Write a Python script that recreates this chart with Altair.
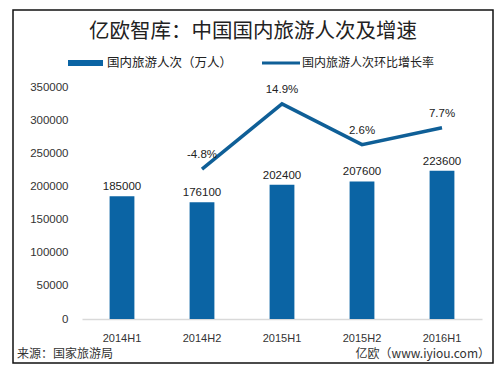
import altair as alt
import pandas as pd

periods = ["2014H1", "2014H2", "2015H1", "2015H2", "2016H1"]
visitors = [185000, 176100, 202400, 207600, 223600]
growth = [None, -4.8, 14.9, 2.6, 7.7]
growth_labels = ["", "-4.8%", "14.9%", "2.6%", "7.7%"]
y_ticks = [0, 50000, 100000, 150000, 200000, 250000, 300000, 350000]

title_text = "亿欧智库：中国国内旅游人次及增速"
legend_bar = "国内旅游人次（万人）"
legend_line = "国内旅游人次环比增长率"
source_text = "来源：国家旅游局"
credit_text = "亿欧（www.iyiou.com）"

df = pd.DataFrame({"period": periods, "visitors": visitors,
                   "growth": growth, "glabel": growth_labels})

BLUE = "#0b64a4"
LINE = "#0f5f97"
CJK = "Noto Sans CJK SC"
NUM = "Liberation Sans"

x_enc = alt.X("period:N", sort=periods,
              scale=alt.Scale(paddingInner=0.69, paddingOuter=0.345),
              axis=alt.Axis(title=None, labelAngle=0, domainColor="#d9d9d9",
                            domainWidth=1.5, ticks=False, labelFontSize=11,
                            labelFont=NUM, labelPadding=13, labelColor="#333333"))
y_bar = alt.Y("visitors:Q", scale=alt.Scale(domain=[0, 350000]),
              axis=alt.Axis(title=None, values=y_ticks, grid=False, domain=False,
                            ticks=False, labelPadding=14, format="d",
                            labelFontSize=11.5, labelFont=NUM, labelColor="#333333"))
y_line = alt.Y("growth:Q", scale=alt.Scale(domain=[-50, 20]), axis=None)

base = alt.Chart(df)
bars = base.mark_bar(color=BLUE).encode(x=x_enc, y=y_bar)
bar_text = base.mark_text(baseline="bottom", dy=-4, fontSize=11.5, font=NUM,
                          color="#222222").encode(x=x_enc, y=y_bar,
                                                  text=alt.Text("visitors:Q", format="d"))
bar_layer = alt.layer(bars, bar_text)

line_base = base.transform_filter("datum.growth != null")
line = line_base.mark_line(color=LINE, strokeWidth=3.5).encode(x=x_enc, y=y_line)
line_text = line_base.mark_text(baseline="bottom", dy=-9, fontSize=11.5, font=NUM,
                                color="#222222").encode(x=x_enc, y=y_line, text="glabel:N")
line_layer = alt.layer(line, line_text)

deco = alt.Chart(pd.DataFrame({"k": [0]}))
title = deco.mark_text(text=title_text, fontSize=20.5, font=CJK, color="#222222",
                       align="center", baseline="middle").encode(
    x=alt.value(171), y=alt.value(-55))
leg_bar = deco.mark_rect(color=BLUE).encode(
    x=alt.value(-14), x2=alt.value(21), y=alt.value(-27), y2=alt.value(-21))
leg_bar_t = deco.mark_text(text=legend_bar, fontSize=12.5, font=CJK, color="#222222",
                           align="left", baseline="middle").encode(
    x=alt.value(25), y=alt.value(-24))
leg_line = deco.mark_rule(color=LINE, strokeWidth=3).encode(
    x=alt.value(180), x2=alt.value(218), y=alt.value(-24))
leg_line_t = deco.mark_text(text=legend_line, fontSize=12, font=CJK, color="#222222",
                            align="left", baseline="middle").encode(
    x=alt.value(220), y=alt.value(-24))
src = deco.mark_text(text=source_text, fontSize=12, font=CJK, color="#333333",
                     align="left", baseline="middle").encode(
    x=alt.value(-65), y=alt.value(267))
cred = deco.mark_text(text=credit_text, fontSize=12, font=CJK, color="#333333",
                      align="right", baseline="middle").encode(
    x=alt.value(408), y=alt.value(267))
border = deco.mark_rect(fill=None, stroke="#111111", strokeWidth=1.5).encode(
    x=alt.value(-69), x2=alt.value(411), y=alt.value(-77), y2=alt.value(276))

chart = alt.layer(
    bar_layer, line_layer, title, leg_bar, leg_bar_t, leg_line, leg_line_t, src, cred, border
).resolve_scale(y="independent").properties(
    width=400, height=232,
    autosize=alt.AutoSizeParams(type="none"),
    padding={"left": 82, "top": 87, "right": 20, "bottom": 58},
    background="white",
).configure_view(stroke=None)

chart.save("out.html", embed_options={"renderer": "svg", "actions": False})
